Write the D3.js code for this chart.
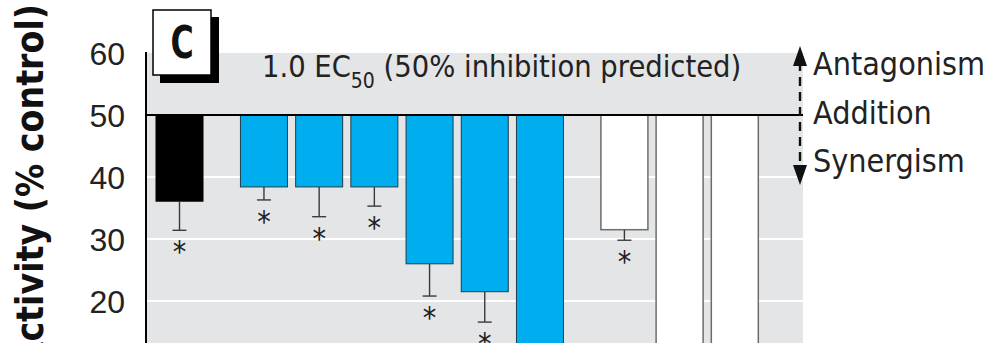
<!DOCTYPE html>
<html>
<head>
<meta charset="utf-8">
<script src="https://cdn.jsdelivr.net/npm/d3@7"></script>
<style>
  html, body { margin: 0; padding: 0; background: #fff; }
  svg { display: block; font-family: "DejaVu Sans Condensed", "Liberation Sans", sans-serif; }
</style>
</head>
<body>
<svg id="chart" width="990" height="343"></svg>
<script>
// Mixture activity relative to control, 1.0 EC50 mixtures (50% inhibition predicted)
const categories = ["A", "B1", "B2", "B3", "B4", "B5", "B6", "W1", "W2", "W3"];
const groups     = ["single", "blue", "blue", "blue", "blue", "blue", "blue", "white", "white", "white"];
const means      = [36.1, 38.4, 38.4, 38.4, 26.0, 21.5, 9.0, 31.5, 6.0, 7.0];
const errorLow   = [31.4, 36.3, 33.6, 35.3, 20.8, 16.6, null, 29.8, null, null];
const significant = [true, true, true, true, true, true, false, true, false, false];
const yTicks = [20, 30, 40, 50, 60];
const predicted = 50;

const svg = d3.select("#chart");

// Slot positions: bars in a group sit one slot apart, an extra gap separates groups
const slots = [];
let s = 0;
categories.forEach((c, i) => {
  if (i > 0) s += (groups[i] !== groups[i - 1]) ? 1.53 : 1;
  slots.push(s);
});

const x = d3.scaleLinear().domain([0, 1]).range([156, 211.2]);
const barW = 47;
const y = d3.scaleLinear().domain([0, 60]).range([425, 53]);

const panelLeft = 147, panelRight = 803;

// grey background panel
svg.append("rect")
  .attr("x", panelLeft).attr("y", y(60))
  .attr("width", panelRight - panelLeft).attr("height", 343 - y(60))
  .attr("fill", "#e4e5e6");

// white gridlines
svg.selectAll("line.grid").data(yTicks.filter(t => t < 50))
  .join("line").attr("class", "grid")
  .attr("x1", panelLeft).attr("x2", panelRight)
  .attr("y1", d => y(d)).attr("y2", d => y(d))
  .attr("stroke", "#fff").attr("stroke-width", 2);

const fills = { single: "#000", blue: "#00aeef", white: "#fff" };
const strokes = { single: "#000", blue: "#1f3c4a", white: "#6d6d6d" };

// bars hang down from the predicted 50% line
svg.selectAll("rect.bar").data(means)
  .join("rect").attr("class", "bar")
  .attr("x", (d, i) => x(slots[i]))
  .attr("y", y(predicted))
  .attr("width", barW)
  .attr("height", d => y(d) - y(predicted))
  .attr("fill", (d, i) => fills[groups[i]])
  .attr("stroke", (d, i) => strokes[groups[i]])
  .attr("stroke-width", (d, i) => groups[i] === "white" ? 1.5 : 1);

// error bars
const eb = svg.append("g").attr("stroke", "#3a3a3a").attr("stroke-width", 1.4);
means.forEach((m, i) => {
  if (errorLow[i] == null) return;
  const cx = x(slots[i]) + barW / 2;
  eb.append("line").attr("x1", cx).attr("x2", cx).attr("y1", y(m)).attr("y2", y(errorLow[i]));
  eb.append("line").attr("x1", cx - 7).attr("x2", cx + 7).attr("y1", y(errorLow[i])).attr("y2", y(errorLow[i]));
});

// significance asterisks
svg.selectAll("text.sig").data(means.map((m, i) => i).filter(i => significant[i]))
  .join("text").attr("class", "sig")
  .attr("x", i => x(slots[i]) + barW / 2)
  .attr("y", i => y(errorLow[i]) + 32)
  .attr("text-anchor", "middle")
  .attr("font-size", 30)
  .attr("fill", "#222")
  .text("*");

// predicted-additivity line at 50%
svg.append("line")
  .attr("x1", panelLeft - 1).attr("x2", panelRight)
  .attr("y1", y(predicted)).attr("y2", y(predicted))
  .attr("stroke", "#000").attr("stroke-width", 2.2);

// y axis
const yAxis = d3.axisLeft(y).tickValues(yTicks).tickSize(0).tickPadding(21);
const ag = svg.append("g").attr("transform", `translate(146,0)`).call(yAxis);
ag.select(".domain").remove();
ag.selectAll("text").attr("font-size", 32).attr("fill", "#222").attr("font-family", null).attr("dy", "0.36em");
svg.append("line")
  .attr("x1", 146).attr("x2", 146).attr("y1", y(60) - 1).attr("y2", 343)
  .attr("stroke", "#000").attr("stroke-width", 2);

// y axis title
svg.append("text")
  .attr("transform", "translate(43,4) rotate(-90)")
  .attr("text-anchor", "end")
  .attr("font-size", 37).attr("font-weight", "bold").attr("fill", "#111")
  .text("Activity (% control)");

// panel letter with drop shadow
svg.append("rect").attr("x", 160).attr("y", 17).attr("width", 59).attr("height", 66).attr("fill", "#000");
svg.append("rect").attr("x", 153).attr("y", 10).attr("width", 58).attr("height", 65)
  .attr("fill", "#fff").attr("stroke", "#000").attr("stroke-width", 1.5);
svg.append("text").attr("transform", "translate(182,58) scale(0.8,1)").attr("text-anchor", "middle")
  .attr("font-size", 44).attr("font-weight", "bold").attr("fill", "#111").text("C");

// panel title
const title = svg.append("text").attr("x", 262).attr("y", 77).attr("font-size", 30.5).attr("fill", "#222");
title.append("tspan").text("1.0 EC");
title.append("tspan").attr("font-size", 21).attr("dy", 11).text("50");
title.append("tspan").attr("dy", -11).text(" (50% inhibition predicted)");

// interaction direction arrow
const ax = 800;
svg.append("line").attr("x1", ax).attr("x2", ax).attr("y1", 62).attr("y2", 170)
  .attr("stroke", "#111").attr("stroke-width", 2.4).attr("stroke-dasharray", "9,6");
svg.append("path").attr("d", `M${ax},46 L${ax - 7},66 L${ax + 7},66 Z`).attr("fill", "#111");
svg.append("path").attr("d", `M${ax},185 L${ax - 7},165 L${ax + 7},165 Z`).attr("fill", "#111");

const side = [["Antagonism", 75], ["Addition", 124], ["Synergism", 172]];
svg.selectAll("text.side").data(side).join("text").attr("class", "side")
  .attr("x", 813).attr("y", d => d[1])
  .attr("font-size", 32).attr("fill", "#222")
  .text(d => d[0]);
</script>
</body>
</html>
